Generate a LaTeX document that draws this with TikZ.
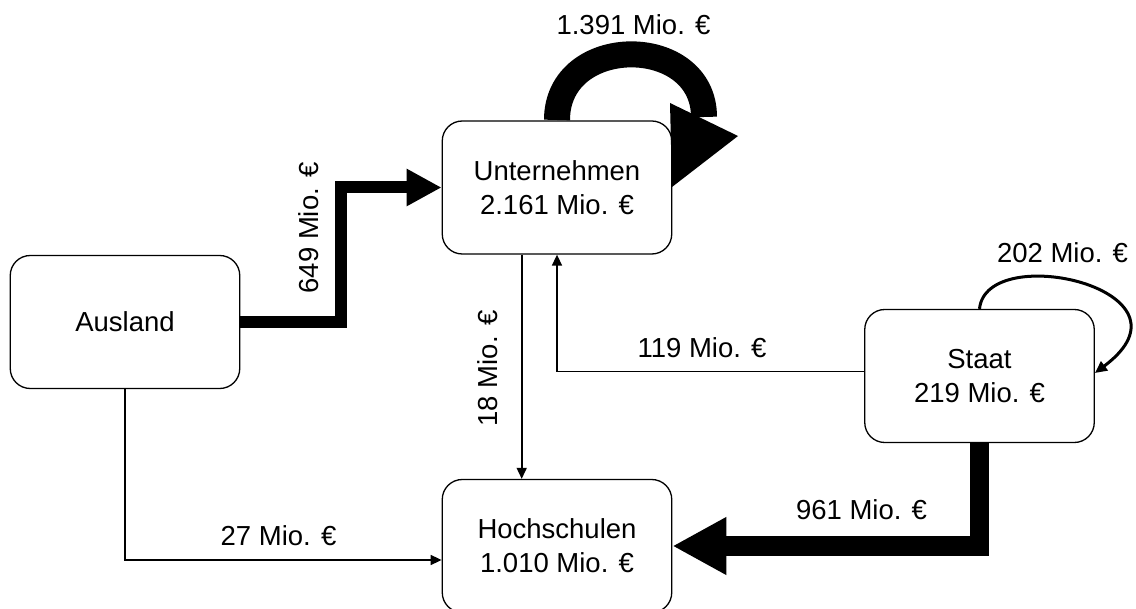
\documentclass[tikz,border=0pt]{standalone}
\usepackage{fontspec}
\setmainfont{Liberation Sans}
\usetikzlibrary{arrows.meta,calc}
\begin{document}
\begin{tikzpicture}[x=1pt,y=-1pt,
  txt/.style={font=\fontsize{27.5}{34}\selectfont},
  box/.style={txt, draw, line width=1.3pt, rounded corners=20pt,
    minimum width=229.5pt, minimum height=133pt, align=center, inner sep=0pt},
  lbl/.style={txt, inner sep=0pt, anchor=base},
  thinarrow/.style={line width=1.6pt, -{Triangle[length=11pt,width=10pt]}},
  medarrow/.style={line width=12pt, -{Triangle[length=35pt,width=35pt]}},
  bigarrow/.style={line width=19pt, -{Triangle[length=54pt,width=54pt]}},
  loopthin/.style={line width=3pt, -{Triangle[length=12pt,width=11pt]}},
  loopbig/.style={line width=26pt}
]
\useasboundingbox (0,0) rectangle (1136,609);

% boxes
\node[box] (A) at (125,322) {Ausland};
\node[box] (U) at (557,187.5) {Unternehmen\\2.161 Mio. €};
\node[box] (S) at (979.5,376) {Staat\\219 Mio. €};
\node[box] (H) at (557,546) {Hochschulen\\1.010 Mio. €};

% connectors
\draw[medarrow] (A.east) -- ([xshift=101pt]A.east) |- (U.west);
\draw[bigarrow] (S.south) |- (H.east);
\draw[thinarrow] ([xshift=-35.3pt]U.south) -- ([xshift=-35.3pt]H.north);
\draw[thinarrow] ([yshift=4.3pt]S.west) -| (U.south);
\draw[thinarrow] (A.south) |- ([yshift=-14pt]H.west);
\draw[loopthin] (S.north) .. controls ($(S.north)+(7,-69)$) and ($(S.north)+(227,-19)$) .. ([yshift=3pt]S.east);

% big self loop on Unternehmen
\coordinate (Uloopend) at (704,117);
\draw[loopbig] (557,120) .. controls (557,33) and (704,33) .. (Uloopend);
\fill (670,103) -- (738,136) -- (672,187) -- cycle;

% labels
\node[lbl] (l1391) at (633.5,35) {1.391 Mio. €};
\node[lbl, rotate=90] (l649) at (318,228) {649 Mio. €};
\node[lbl, rotate=90] (l18) at (497,368.5) {18 Mio. €};
\node[lbl] (l119) at (702,358) {119 Mio. €};
\node[lbl] (l961) at (861.5,520) {961 Mio. €};
\node[lbl] (l27) at (278.5,546) {27 Mio. €};
\node[lbl] (l202) at (1062.5,263) {202 Mio. €};
\end{tikzpicture}
\end{document}
